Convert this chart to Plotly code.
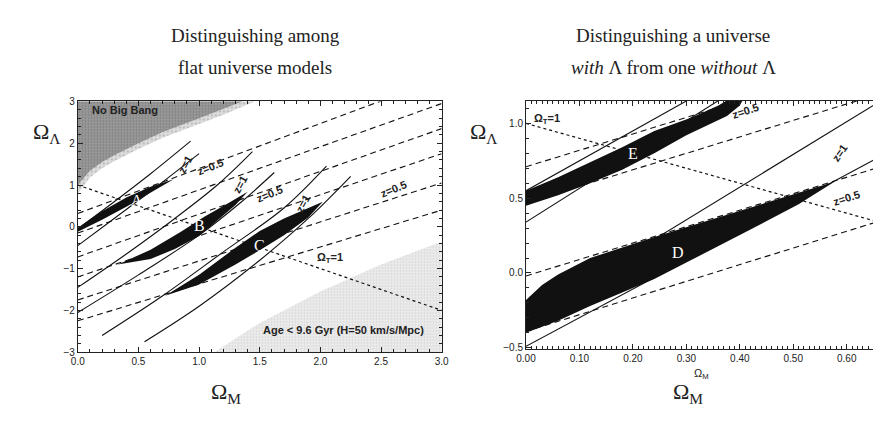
import plotly.graph_objects as go

W, H = 881, 425

# ---------------- Left panel (flat universe models) ----------------
nobb_M = [0.0, 0.1, 0.2, 0.3, 0.5, 0.7, 1.0, 1.2, 1.4, 1.4, 0.0]
nobb_L = [1.0, 1.34, 1.55, 1.71, 2.0, 2.27, 2.6, 2.82, 3.05, 3.05, 3.05]
halo_M = [0.0, 0.1, 0.2, 0.3, 0.5, 0.7, 1.0, 1.2, 1.5, 1.5, 0.0]
halo_L = [0.8, 1.18, 1.40, 1.57, 1.86, 2.13, 2.46, 2.68, 3.05, 3.05, 3.05]

age_M = [1.1, 1.5, 2.0, 2.5, 3.05, 3.05, 1.1]
age_L = [-3.05, -2.3, -1.55, -0.9, -0.3, -3.05, -3.05]

omegaT_left_M = [0.0, 3.0]
omegaT_left_L = [1.0, -2.0]

regA_M = [0.0, 0.2, 0.4, 0.6, 0.79, 0.6, 0.4, 0.2, 0.0]
regA_L = [-0.02, 0.37, 0.70, 0.96, 1.14, 0.82, 0.48, 0.17, -0.12]
regB_M = [0.33, 0.6, 0.85, 1.05, 1.25, 1.40, 1.30, 1.15, 1.0, 0.8, 0.6, 0.33]
regB_L = [-0.9, -0.55, -0.12, 0.25, 0.58, 0.84, 0.52, 0.16, -0.22, -0.53, -0.77, -0.9]
regC_M = [0.72, 1.0, 1.3, 1.5, 1.7, 1.9, 2.02, 1.9, 1.7, 1.5, 1.3, 1.0, 0.72]
regC_L = [-1.65, -1.15, -0.5, -0.1, 0.2, 0.45, 0.6, 0.22, -0.2, -0.56, -0.9, -1.38, -1.65]

# z=0.5 contours (dashed): Lambda at Omega_M = 0 and at Omega_M = 3
left_dash_L0 = [0.32, -0.15, -0.72, -1.2, -1.75, -2.25]
left_dash_L3 = [3.55, 2.95, 2.35, 1.75, 1.05, 0.4]

# z=1 contours (solid, slightly curved)
left_solid_M = [
    [0.0, 0.3, 0.6, 0.93],
    [0.0, 0.3, 0.6, 1.0],
    [0.0, 0.4, 0.8, 1.15, 1.44],
    [0.0, 0.5, 1.0, 1.35, 1.62],
    [0.2, 0.7, 1.2, 1.7, 2.05],
    [0.55, 1.0, 1.5, 1.9, 2.25],
]
left_solid_L = [
    [-0.05, 0.6, 1.27, 2.05],
    [-0.45, 0.2, 0.85, 1.75],
    [-1.45, -0.65, 0.2, 1.0, 1.8],
    [-2.05, -1.15, -0.2, 0.6, 1.3],
    [-2.6, -1.65, -0.6, 0.45, 1.45],
    [-2.75, -1.9, -0.8, 0.2, 1.21],
]

# ---------------- Right panel (with / without Lambda) ----------------
omegaT_right_M = [0.0, 0.7]
omegaT_right_L = [1.0, 0.3]

regD_M = [0.0, 0.03, 0.06, 0.12, 0.24, 0.36, 0.48, 0.577,
          0.51, 0.42, 0.30, 0.24, 0.18, 0.12, 0.06, 0.0]
regD_L = [-0.18, -0.08, -0.01, 0.10, 0.24, 0.37, 0.50, 0.61,
          0.46, 0.29, 0.07, -0.04, -0.13, -0.22, -0.32, -0.40]
regE_M = [0.0, 0.06, 0.12, 0.18, 0.24, 0.31, 0.36, 0.42, 0.40, 0.376, 0.30,
          0.24, 0.18, 0.12, 0.06, 0.0]
regE_L = [0.55, 0.64, 0.74, 0.84, 0.95, 1.04, 1.12, 1.25, 1.12, 1.05, 0.92,
          0.80, 0.69, 0.60, 0.52, 0.45]

# z=0.5 (dashed): Lambda at Omega_M = 0 and at Omega_M = 0.7
right_dash_L0 = [0.71, 0.47, -0.02, -0.39]
right_dash_L7 = [1.48, 1.24, 0.75, 0.39]

# z=1 (solid): Lambda at Omega_M = 0 and at Omega_M = 0.7
right_solid_L0 = [0.55, 0.34, -0.30, -0.49]
right_solid_L7 = [1.95, 1.92, 1.23, 0.85]

# ---------------- figure ----------------
fig = go.Figure()
INK = "#111111"

def poly(M, L, color, xa, ya, pattern=None):
    kw = {}
    if pattern:
        kw["fillpattern"] = pattern
    fig.add_trace(go.Scatter(x=M, y=L, mode="lines", fill="toself", fillcolor=color,
                             line=dict(width=0, color=color), xaxis=xa, yaxis=ya,
                             hoverinfo="skip", showlegend=False, **kw))

def line(M, L, dash, xa, ya, width=1.1):
    fig.add_trace(go.Scatter(x=M, y=L, mode="lines",
                             line=dict(color=INK, width=width, dash=dash, shape="spline"),
                             xaxis=xa, yaxis=ya, hoverinfo="skip", showlegend=False))

# left panel
poly(halo_M, halo_L, "#d4d4d4", "x", "y",
     dict(shape=".", bgcolor="#dedede", fgcolor="#9a9a9a", size=4, solidity=0.3))
poly(nobb_M, nobb_L, "#8f8f8f", "x", "y",
     dict(shape=".", bgcolor="#9c9c9c", fgcolor="#5a5a5a", size=3, solidity=0.35))
poly(age_M, age_L, "#e4e4e4", "x", "y",
     dict(shape=".", bgcolor="#ececec", fgcolor="#b8b8b8", size=3, solidity=0.25))
for a, b in zip(left_dash_L0, left_dash_L3):
    line([0.0, 3.0], [a, b], "6px,4px", "x", "y")
for M, L in zip(left_solid_M, left_solid_L):
    line(M, L, "solid", "x", "y")
line(omegaT_left_M, omegaT_left_L, "dot", "x", "y", 1.2)
poly(regA_M, regA_L, INK, "x", "y")
poly(regB_M, regB_L, INK, "x", "y")
poly(regC_M, regC_L, INK, "x", "y")

# right panel
for a, b in zip(right_dash_L0, right_dash_L7):
    line([0.0, 0.7], [a, b], "6px,4px", "x2", "y2")
for a, b in zip(right_solid_L0, right_solid_L7):
    line([0.0, 0.7], [a, b], "solid", "x2", "y2")
line(omegaT_right_M, omegaT_right_L, "dot", "x2", "y2", 1.2)
poly(regD_M, regD_L, INK, "x2", "y2")
poly(regE_M, regE_L, INK, "x2", "y2")

tickfont = dict(family="Liberation Sans", size=10, color="#222")
axcommon = dict(showgrid=False, zeroline=False, showline=True, linecolor="#222",
                linewidth=1, mirror="allticks", ticks="inside", ticklen=5,
                tickcolor="#222", tickfont=tickfont)

fig.update_layout(
    width=W, height=H, margin=dict(l=0, r=0, t=0, b=0),
    paper_bgcolor="white", plot_bgcolor="white", showlegend=False,
    xaxis=dict(domain=[61 / W, 432 / W], range=[0, 3], dtick=0.5, tickformat=".1f",
               minor=dict(ticks="inside", ticklen=3, dtick=0.1, tickcolor="#222"), **axcommon),
    yaxis=dict(domain=[1 - 348 / H, 1 - 90 / H], range=[-3, 3], dtick=1,
               minor=dict(ticks="inside", ticklen=3, dtick=0.2, tickcolor="#222"), **axcommon),
    xaxis2=dict(domain=[518 / W, 1.0], range=[0, 0.666], dtick=0.1, tickformat=".2f",
                anchor="y2",
                minor=dict(ticks="inside", ticklen=3, dtick=0.01, tickcolor="#222"), **axcommon),
    yaxis2=dict(domain=[1 - 345 / H, 1 - 89.5 / H], range=[-0.51, 1.15], dtick=0.5,
                tickformat=".1f", anchor="x2",
                minor=dict(ticks="inside", ticklen=3, dtick=0.1, tickcolor="#222"), **axcommon),
)

serif = "Liberation Serif"
sans = "Liberation Sans"
ann = []
def txt(x, y, text, xref="paper", yref="paper", size=20, family=serif, color="#222",
        angle=0, xanchor="center", yanchor="middle", weight="normal"):
    ann.append(dict(x=x, y=y, xref=xref, yref=yref, text=text, showarrow=False,
                    font=dict(family=family, size=size, color=color, weight=weight),
                    textangle=angle, xanchor=xanchor, yanchor=yanchor))

# titles and outer axis labels
txt(242 / W, 1 - 22 / H, "Distinguishing among", size=19)
txt(242 / W, 1 - 55 / H, "flat universe models", size=19)
txt(668 / W, 1 - 22 / H, "Distinguishing a universe", size=19)
txt(668 / W, 1 - 55 / H, "<i>with</i> Λ from one <i>without</i> Λ", size=19)
txt(30 / W, 1 - 122 / H, "Ω<sub>Λ</sub>", size=22)
txt(475 / W, 1 - 122 / H, "Ω<sub>Λ</sub>", size=22)
txt(212 / W, 1 - 390 / H, "Ω<sub>M</sub>", size=22)
txt(683 / W, 1 - 390 / H, "Ω<sub>M</sub>", size=22)
txt(697 / W, 1 - 370 / H, "Ω<sub>M</sub>", size=11, family=sans)

# left panel labels
B = "bold"
txt(0.1, 2.8, "No Big Bang", "x", "y", 11, sans, xanchor="left", weight=B)
txt(2.19, -2.47, "Age &lt; 9.6 Gyr (H=50 km/s/Mpc)", "x", "y", 11, sans, weight=B)
txt(2.08, -0.75, "Ω<sub>T</sub>=1", "x", "y", 11, sans, weight=B)
txt(0.88, 1.49, "z=1", "x", "y", 11, sans, angle=-62, weight=B)
txt(1.34, 1.02, "z=1", "x", "y", 11, sans, angle=-62, weight=B)
txt(1.86, 0.56, "z=1", "x", "y", 11, sans, angle=-62, weight=B)
txt(1.09, 1.42, "z=0.5", "x", "y", 11, sans, angle=-22, weight=B)
txt(1.58, 0.79, "z=0.5", "x", "y", 11, sans, angle=-22, weight=B)
txt(2.6, 0.9, "z=0.5", "x", "y", 11, sans, angle=-22, weight=B)
txt(0.49, 0.63, "A", "x", "y", 16, serif, "white")
txt(1.0, 0.02, "B", "x", "y", 16, serif, "white")
txt(1.5, -0.44, "C", "x", "y", 16, serif, "white")

# right panel labels
txt(0.04, 1.03, "Ω<sub>T</sub>=1", "x2", "y2", 11, sans, weight=B)
txt(0.41, 1.08, "z=0.5", "x2", "y2", 11, sans, angle=-18, weight=B)
txt(0.587, 0.80, "z=1", "x2", "y2", 11, sans, angle=-55, weight=B)
txt(0.60, 0.50, "z=0.5", "x2", "y2", 11, sans, angle=-18, weight=B)
txt(0.284, 0.14, "D", "x2", "y2", 16, serif, "white")
txt(0.20, 0.80, "E", "x2", "y2", 16, serif, "white")

fig.update_layout(annotations=ann)
fig.write_html("out.html")
